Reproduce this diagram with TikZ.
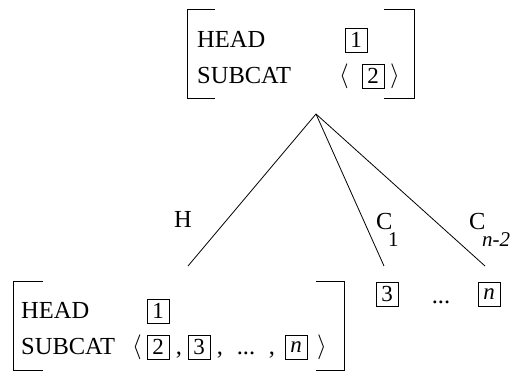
\documentclass[tikz,border=0pt]{standalone}
\usepackage{fontspec}
\setmainfont{Liberation Serif}
\begin{document}
\begin{tikzpicture}[x=1pt,y=-1pt,
  txt/.style={inner sep=0pt, anchor=base west, font=\fontsize{24.5}{24.5}\selectfont},
  subtxt/.style={inner sep=0pt, anchor=base west, font=\fontsize{21}{21}\selectfont},
  ctxt/.style={inner sep=0pt, anchor=base, font=\fontsize{24.5}{24.5}\selectfont},
  tagbox/.style={draw, line width=0.6pt, inner sep=0pt, minimum width=22pt, minimum height=24pt, font=\fontsize{23}{23}\selectfont},
  ang/.style={inner sep=0pt, font=\fontsize{24.5}{24.5}\selectfont},
  brk/.style={line width=0.8pt},
  branch/.style={line width=0.8pt}]
\useasboundingbox (0,0) rectangle (512,371);
% top AVM
\draw[brk] (215,9) -- (187,9) -- (187,98) -- (215,98);
\draw[brk] (384,9) -- (414,9) -- (414,98) -- (384,98);
\node[txt] (th) at (197,48) {HEAD};
\node[txt] (ts) at (197,84) {SUBCAT};
\node[tagbox] (t1) at (356,40) {1};
\node[ang] (tl) at (344,76) {$\langle$};
\node[tagbox] (t2) at (373,76) {2};
\node[ang] (tr) at (395,76) {$\rangle$};
% branches
\coordinate (apex) at (316,114);
\coordinate (hend) at (188,266);
\coordinate (c1end) at (384,266);
\coordinate (cnend) at (485,266);
\draw[branch] (apex) -- (hend);
\draw[branch] (apex) -- (c1end);
\draw[branch] (apex) -- (cnend);
\node[txt] (hl) at (174,228) {H};
\node[txt] (c1l) at (376,230) {C};
\node[subtxt] (c1s) at (388,247) {1};
\node[txt] (cnl) at (469,230) {C};
\node[subtxt] (cns) at (482,247) {\itshape n-2};
% daughters right
\node[tagbox] (d3) at (387,294) {3};
\node[ctxt] (dd) at (441,304) {...};
\node[tagbox] (dn) at (489,294) {\itshape n};
% bottom AVM
\draw[brk] (43,281) -- (13,281) -- (13,370) -- (43,370);
\draw[brk] (316,281) -- (344,281) -- (344,370) -- (316,370);
\node[txt] (bh) at (21,319) {HEAD};
\node[txt] (bs) at (21,355) {SUBCAT};
\node[tagbox] (b1) at (158,311) {1};
\node[ang] (bl) at (137,347) {$\langle$};
\node[tagbox] (b2) at (158,347) {2};
\node[ctxt] (bc1) at (179,355) {,};
\node[tagbox] (b3) at (199,347) {3};
\node[ctxt] (bc2) at (220,355) {,};
\node[ctxt] (bdots) at (246,355) {...};
\node[ctxt] (bc3) at (272,355) {,};
\node[tagbox] (bn) at (296,347) {\itshape n};
\node[ang] (br) at (322,347) {$\rangle$};
\end{tikzpicture}
\end{document}
